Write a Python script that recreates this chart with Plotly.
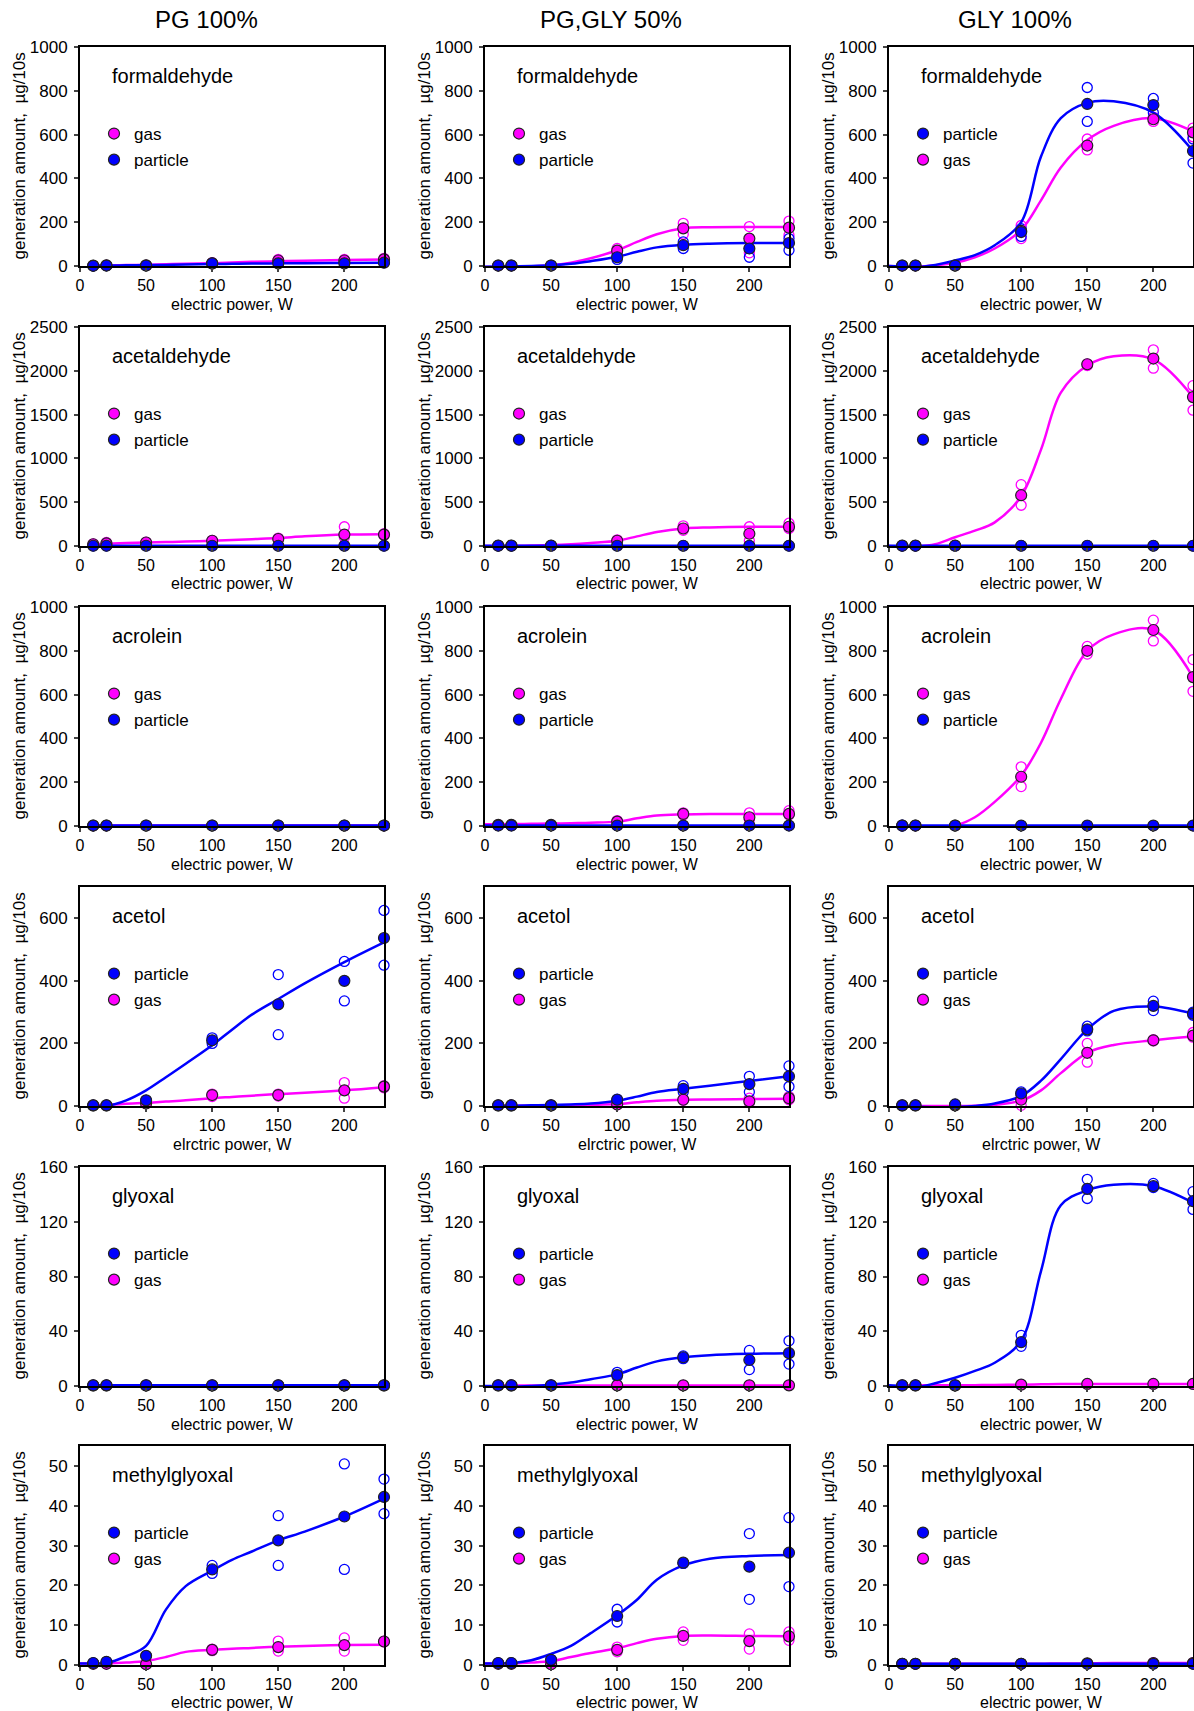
import plotly.graph_objects as go

# ---------------- data ----------------
POWER = [10, 20, 50, 100, 150, 200, 230]
FIT_X = [0, 10, 20, 35, 50, 65, 80, 100, 115, 130, 150, 170, 200, 230]
LIQUIDS = ["PG 100%", "PG,GLY 50%", "GLY 100%"]
COMPOUNDS = ["formaldehyde", "acetaldehyde", "acrolein", "acetol", "glyoxal", "methylglyoxal"]
Y_MAX = [1000, 2500, 1000, 700, 160, 55]
Y_DTICK = [200, 500, 200, 200, 40, 10]
X_TICKS = [0, 50, 100, 150, 200]
X_TITLES = ["electric power, W", "electric power, W", "electric power, W",
            "elrctric power, W", "electric power, W", "electric power, W"]
Y_TITLE = "generation amount,\u00a0 µg/10s"
LEGEND_FIRST = ["gas", "gas", "particle",
                "gas", "gas", "gas",
                "gas", "gas", "gas",
                "particle", "particle", "particle",
                "particle", "particle", "particle",
                "particle", "particle", "particle"]

# formaldehyde
form_pg_gas = [2, 3, 3, 12, 25, 25, 30]
form_pg_gas_r1 = [2, 3, 3, 15, 30, 30, 35]
form_pg_gas_r2 = [2, 3, 3, 10, 20, 22, 28]
form_pg_gas_fit = [None, 1, 2, 4, 5, 8, 10, 13, 16, 19, 22, 24, 27, 30]
form_pg_par = [1, 2, 2, 12, 12, 12, 15]
form_pg_par_r1 = [1, 2, 2, 12, 12, 12, 15]
form_pg_par_r2 = [1, 2, 2, 12, 12, 12, 15]
form_pg_par_fit = [None, 1, 2, 3, 4, 5, 7, 9, 10, 11, 12, 13, 14, 15]

form_mix_gas = [2, 2, 2, 70, 172, 125, 175]
form_mix_gas_r1 = [2, 2, 2, 80, 195, 180, 205]
form_mix_gas_r2 = [2, 2, 2, 60, 145, 60, 140]
form_mix_gas_fit = [-5, -3, -2, -1, 3, 15, 35, 72, 110, 145, 172, 177, 178, 178]
form_mix_par = [2, 2, 2, 40, 95, 80, 105]
form_mix_par_r1 = [2, 2, 2, 50, 110, 80, 125]
form_mix_par_r2 = [2, 2, 2, 30, 80, 40, 72]
form_mix_par_fit = [-3, -2, -1, 0, 3, 10, 22, 42, 65, 85, 97, 102, 105, 105]

form_gly_gas = [2, 2, 2, 160, 550, 670, 610]
form_gly_gas_r1 = [2, 2, 2, 185, 580, 680, 630]
form_gly_gas_r2 = [2, 2, 2, 125, 530, 660, 590]
form_gly_gas_fit = [0, -2, -3, 3, 15, 40, 80, 165, 300, 450, 575, 640, 675, 615]
form_gly_par = [2, 2, 2, 155, 740, 735, 525]
form_gly_par_r1 = [2, 2, 2, 170, 815, 765, 580]
form_gly_par_r2 = [2, 2, 2, 135, 660, 700, 470]
form_gly_par_fit = [0, -2, -5, 5, 25, 50, 95, 200, 500, 675, 745, 752, 700, 525]

# acetaldehyde
acet_pg_gas = [20, 30, 40, 60, 80, 130, 130]
acet_pg_gas_r1 = [25, 40, 45, 65, 90, 220, 140]
acet_pg_gas_r2 = [15, 25, 35, 55, 70, 100, 120]
acet_pg_gas_fit = [None, 20, 25, 33, 40, 45, 50, 60, 68, 78, 90, 110, 130, 135]
acet_pg_par = [3, 3, 3, 3, 3, 3, 3]
acet_pg_par_r1 = [3, 3, 3, 3, 3, 3, 3]
acet_pg_par_r2 = [3, 3, 3, 3, 3, 3, 3]
acet_pg_par_fit = [None, 3, 3, 3, 3, 3, 3, 3, 3, 3, 3, 3, 3, 3]

acet_mix_gas = [5, 5, 5, 60, 200, 140, 220]
acet_mix_gas_r1 = [5, 5, 5, 70, 230, 220, 260]
acet_mix_gas_r2 = [5, 5, 5, 50, 180, 60, 200]
acet_mix_gas_fit = [0, 0, 2, 5, 10, 20, 35, 60, 110, 160, 200, 212, 220, 220]
acet_mix_par = [3, 3, 3, 3, 3, 3, 3]
acet_mix_par_r1 = [3, 3, 3, 3, 3, 3, 3]
acet_mix_par_r2 = [3, 3, 3, 3, 3, 3, 3]
acet_mix_par_fit = [3, 3, 3, 3, 3, 3, 3, 3, 3, 3, 3, 3, 3, 3]

acet_gly_gas = [5, 5, 5, 580, 2075, 2140, 1700]
acet_gly_gas_r1 = [5, 5, 5, 700, 2080, 2240, 1830]
acet_gly_gas_r2 = [5, 5, 5, 465, 2060, 2030, 1550]
acet_gly_gas_fit = [0, -5, -5, 20, 100, 175, 270, 570, 1100, 1750, 2060, 2165, 2130, 1700]
acet_gly_par = [3, 3, 3, 3, 3, 3, 3]
acet_gly_par_r1 = [3, 3, 3, 3, 3, 3, 3]
acet_gly_par_r2 = [3, 3, 3, 3, 3, 3, 3]
acet_gly_par_fit = [3, 3, 3, 3, 3, 3, 3, 3, 3, 3, 3, 3, 3, 3]

# acrolein
acro_pg_gas = [2, 2, 2, 2, 2, 2, 2]
acro_pg_gas_r1 = [2, 2, 2, 2, 2, 2, 2]
acro_pg_gas_r2 = [2, 2, 2, 2, 2, 2, 2]
acro_pg_gas_fit = [None, 2, 2, 2, 2, 2, 2, 2, 2, 2, 2, 2, 2, 2]
acro_pg_par = [2, 2, 2, 2, 2, 2, 2]
acro_pg_par_r1 = [2, 2, 2, 2, 2, 2, 2]
acro_pg_par_r2 = [2, 2, 2, 2, 2, 2, 2]
acro_pg_par_fit = [None, 2, 2, 2, 2, 2, 2, 2, 2, 2, 2, 2, 2, 2]

acro_mix_gas = [5, 5, 5, 20, 55, 40, 55]
acro_mix_gas_r1 = [5, 5, 5, 25, 60, 60, 70]
acro_mix_gas_r2 = [5, 5, 5, 15, 50, 30, 50]
acro_mix_gas_fit = [8, 8, 9, 10, 11, 13, 15, 20, 35, 48, 53, 55, 55, 55]
acro_mix_par = [2, 2, 2, 2, 2, 2, 2]
acro_mix_par_r1 = [2, 2, 2, 2, 2, 2, 2]
acro_mix_par_r2 = [2, 2, 2, 2, 2, 2, 2]
acro_mix_par_fit = [2, 2, 2, 2, 2, 2, 2, 2, 2, 2, 2, 2, 2, 2]

acro_gly_gas = [2, 2, 2, 225, 800, 895, 680]
acro_gly_gas_r1 = [2, 2, 2, 270, 820, 940, 760]
acro_gly_gas_r2 = [2, 2, 2, 180, 785, 845, 615]
acro_gly_gas_fit = [None, 0, -3, -5, 2, 40, 110, 230, 380, 580, 800, 875, 895, 680]
acro_gly_par = [2, 2, 2, 2, 2, 2, 2]
acro_gly_par_r1 = [0, 2, 2, 2, 2, 2, 2]
acro_gly_par_r2 = [4, 2, 2, 2, 2, 2, 2]
acro_gly_par_fit = [None, 2, 2, 2, 2, 2, 2, 2, 2, 2, 2, 2, 2, 2]

# acetol
acetol_pg_gas = [2, 2, 8, 35, 35, 50, 62]
acetol_pg_gas_r1 = [2, 2, 8, 38, 38, 75, 65]
acetol_pg_gas_r2 = [2, 2, 8, 30, 32, 25, 58]
acetol_pg_gas_fit = [None, 2, 4, 7, 10, 14, 18, 25, 29, 33, 38, 42, 50, 60]
acetol_pg_par = [2, 2, 18, 210, 325, 400, 537]
acetol_pg_par_r1 = [2, 2, 18, 218, 420, 462, 625]
acetol_pg_par_r2 = [2, 2, 18, 200, 228, 336, 450]
acetol_pg_par_fit = [None, 0, 0, 18, 50, 92, 135, 194, 244, 292, 342, 392, 460, 523]

acetol_mix_gas = [2, 2, 2, 5, 20, 15, 25]
acetol_mix_gas_r1 = [2, 2, 2, 6, 22, 25, 30]
acetol_mix_gas_r2 = [2, 2, 2, 4, 18, 10, 20]
acetol_mix_gas_fit = [None, 1, 1, 1, 2, 3, 4, 6, 12, 17, 20, 21, 22, 23]
acetol_mix_par = [2, 2, 2, 20, 55, 70, 95]
acetol_mix_par_r1 = [2, 2, 2, 22, 65, 95, 128]
acetol_mix_par_r2 = [2, 2, 2, 18, 45, 45, 62]
acetol_mix_par_fit = [None, 1, 1, 2, 3, 5, 8, 17, 30, 45, 55, 65, 80, 95]

acetol_gly_gas = [2, 2, 2, 20, 170, 210, 225]
acetol_gly_gas_r1 = [2, 2, 2, 35, 200, 212, 235]
acetol_gly_gas_r2 = [2, 2, 2, 2, 140, 208, 220]
acetol_gly_gas_fit = [None, 0, 0, 0, 0, 1, 4, 17, 50, 105, 170, 195, 210, 222]
acetol_gly_par = [2, 2, 5, 40, 245, 320, 295]
acetol_gly_par_r1 = [2, 2, 5, 45, 255, 335, 300]
acetol_gly_par_r2 = [2, 2, 5, 35, 240, 305, 290]
acetol_gly_par_fit = [None, 0, -2, -4, -3, 0, 8, 32, 81, 150, 245, 304, 318, 295]

# glyoxal
glyo_pg_gas = [0.5, 0.5, 0.5, 0.5, 0.5, 0.5, 0.5]
glyo_pg_gas_r1 = [0.5, 0.5, 0.5, 0.5, 0.5, 0.5, 0.5]
glyo_pg_gas_r2 = [0.5, 0.5, 0.5, 0.5, 0.5, 0.5, 0.5]
glyo_pg_gas_fit = [None, 0.5, 0.5, 0.5, 0.5, 0.5, 0.5, 0.5, 0.5, 0.5, 0.5, 0.5, 0.5, 0.5]
glyo_pg_par = [0.5, 0.5, 0.5, 0.5, 0.5, 0.5, 0.5]
glyo_pg_par_r1 = [0.5, 0.5, 0.5, 0.5, 0.5, 0.5, 0.5]
glyo_pg_par_r2 = [0.5, 0.5, 0.5, 0.5, 0.5, 0.5, 0.5]
glyo_pg_par_fit = [None, 0.5, 0.5, 0.5, 0.5, 0.5, 0.5, 0.5, 0.5, 0.5, 0.5, 0.5, 0.5, 0.5]

glyo_mix_gas = [0.5, 0.5, 0.5, 0.5, 0.5, 0.5, 0.5]
glyo_mix_gas_r1 = [0.5, 0.5, 0.5, 0.5, 0.5, 0.5, 0.5]
glyo_mix_gas_r2 = [0.5, 0.5, 0.5, 0.5, 0.5, 0.5, 0.5]
glyo_mix_gas_fit = [None, 0.3, 0.3, 0.3, 0.3, 0.3, 0.3, 0.3, 0.3, 0.3, 0.3, 0.3, 0.3, 0.3]
glyo_mix_par = [0.5, 0.5, 0.5, 8, 21, 19, 24]
glyo_mix_par_r1 = [0.5, 0.5, 0.5, 10, 22, 26, 33]
glyo_mix_par_r2 = [0.5, 0.5, 0.5, 7, 20, 12, 16]
glyo_mix_par_fit = [0, 0, -0.5, 0, 1, 2.5, 5, 8.5, 13.5, 18, 21, 22.5, 23.5, 24]

glyo_gly_gas = [0.5, 0.5, 0.5, 1, 1.5, 1.5, 1.5]
glyo_gly_gas_r1 = [0.5, 0.5, 0.5, 1, 1.5, 1.5, 1.5]
glyo_gly_gas_r2 = [0.5, 0.5, 0.5, 1, 1.5, 1.5, 1.5]
glyo_gly_gas_fit = [None, 0.5, 0.5, 0.5, 0.5, 0.6, 0.8, 1, 1.2, 1.4, 1.5, 1.5, 1.5, 1.5]
glyo_gly_par = [0.5, 0.5, 0.5, 32, 144, 146, 135]
glyo_gly_par_r1 = [0.5, 0.5, 0.5, 37, 151, 148, 142]
glyo_gly_par_r2 = [0.5, 0.5, 0.5, 29, 137, 145, 129]
glyo_gly_par_fit = [0.5, 0, -1, 2, 6, 11, 17, 33, 84, 132, 143, 147, 146, 134]

# methylglyoxal
mgly_pg_gas = [0.3, 0.3, 0.2, 3.8, 4.5, 5.0, 5.9]
mgly_pg_gas_r1 = [0.3, 0.3, 0.2, 4.0, 6.0, 6.8, 6.0]
mgly_pg_gas_r2 = [0.3, 0.3, 0.2, 3.6, 3.5, 3.5, 5.8]
mgly_pg_gas_fit = [0.4, 0.4, 0.4, 0.6, 1.0, 2.0, 3.3, 3.8, 4.1, 4.3, 4.6, 4.8, 5.0, 5.1]
mgly_pg_par = [0.5, 0.8, 2.3, 24.0, 31.3, 37.3, 42.2]
mgly_pg_par_r1 = [0.5, 0.8, 2.3, 25.0, 37.5, 50.5, 46.7]
mgly_pg_par_r2 = [0.5, 0.8, 2.3, 23.0, 25.0, 24.0, 38.0]
mgly_pg_par_fit = [0.4, 0.4, 0.5, 2.2, 4.8, 13.9, 19.8, 23.7, 26.4, 28.5, 31.3, 33.5, 37.3, 41.8]

mgly_mix_gas = [0.3, 0.3, 0.2, 3.8, 7.3, 6.0, 7.2]
mgly_mix_gas_r1 = [0.3, 0.3, 0.2, 4.5, 8.3, 7.8, 8.3]
mgly_mix_gas_r2 = [0.3, 0.3, 0.2, 3.3, 6.2, 4.0, 6.2]
mgly_mix_gas_fit = [0.4, 0.4, 0.4, 0.6, 1.0, 2.0, 3.0, 4.2, 5.5, 6.6, 7.3, 7.4, 7.3, 7.2]
mgly_mix_par = [0.5, 0.5, 1.3, 12.3, 25.7, 24.7, 28.2]
mgly_mix_par_r1 = [0.5, 0.5, 1.3, 14.0, 25.5, 33.0, 37.0]
mgly_mix_par_r2 = [0.5, 0.5, 1.3, 10.8, 25.5, 16.5, 19.7]
mgly_mix_par_fit = [0.4, 0.4, 0.5, 1.2, 2.8, 4.8, 8.0, 12.5, 16.4, 21.4, 25.0, 26.7, 27.4, 27.6]

mgly_gly_gas = [0.3, 0.3, 0.3, 0.3, 0.4, 0.5, 0.5]
mgly_gly_gas_r1 = [0.3, 0.3, 0.3, 0.3, 0.4, 0.5, 0.5]
mgly_gly_gas_r2 = [0.3, 0.3, 0.3, 0.3, 0.4, 0.5, 0.5]
mgly_gly_gas_fit = [None, 0.3, 0.3, 0.3, 0.3, 0.3, 0.3, 0.3, 0.3, 0.4, 0.4, 0.5, 0.5, 0.5]
mgly_gly_par = [0.3, 0.3, 0.3, 0.3, 0.3, 0.3, 0.3]
mgly_gly_par_r1 = [0.3, 0.3, 0.3, 0.3, 0.3, 0.3, 0.3]
mgly_gly_par_r2 = [0.3, 0.3, 0.3, 0.3, 0.3, 0.3, 0.3]
mgly_gly_par_fit = [None, 0.3, 0.3, 0.3, 0.3, 0.3, 0.3, 0.3, 0.3, 0.3, 0.3, 0.3, 0.3, 0.3]

PANELS = [
    (form_pg_gas, form_pg_gas_r1, form_pg_gas_r2, form_pg_gas_fit, form_pg_par, form_pg_par_r1, form_pg_par_r2, form_pg_par_fit),
    (form_mix_gas, form_mix_gas_r1, form_mix_gas_r2, form_mix_gas_fit, form_mix_par, form_mix_par_r1, form_mix_par_r2, form_mix_par_fit),
    (form_gly_gas, form_gly_gas_r1, form_gly_gas_r2, form_gly_gas_fit, form_gly_par, form_gly_par_r1, form_gly_par_r2, form_gly_par_fit),
    (acet_pg_gas, acet_pg_gas_r1, acet_pg_gas_r2, acet_pg_gas_fit, acet_pg_par, acet_pg_par_r1, acet_pg_par_r2, acet_pg_par_fit),
    (acet_mix_gas, acet_mix_gas_r1, acet_mix_gas_r2, acet_mix_gas_fit, acet_mix_par, acet_mix_par_r1, acet_mix_par_r2, acet_mix_par_fit),
    (acet_gly_gas, acet_gly_gas_r1, acet_gly_gas_r2, acet_gly_gas_fit, acet_gly_par, acet_gly_par_r1, acet_gly_par_r2, acet_gly_par_fit),
    (acro_pg_gas, acro_pg_gas_r1, acro_pg_gas_r2, acro_pg_gas_fit, acro_pg_par, acro_pg_par_r1, acro_pg_par_r2, acro_pg_par_fit),
    (acro_mix_gas, acro_mix_gas_r1, acro_mix_gas_r2, acro_mix_gas_fit, acro_mix_par, acro_mix_par_r1, acro_mix_par_r2, acro_mix_par_fit),
    (acro_gly_gas, acro_gly_gas_r1, acro_gly_gas_r2, acro_gly_gas_fit, acro_gly_par, acro_gly_par_r1, acro_gly_par_r2, acro_gly_par_fit),
    (acetol_pg_gas, acetol_pg_gas_r1, acetol_pg_gas_r2, acetol_pg_gas_fit, acetol_pg_par, acetol_pg_par_r1, acetol_pg_par_r2, acetol_pg_par_fit),
    (acetol_mix_gas, acetol_mix_gas_r1, acetol_mix_gas_r2, acetol_mix_gas_fit, acetol_mix_par, acetol_mix_par_r1, acetol_mix_par_r2, acetol_mix_par_fit),
    (acetol_gly_gas, acetol_gly_gas_r1, acetol_gly_gas_r2, acetol_gly_gas_fit, acetol_gly_par, acetol_gly_par_r1, acetol_gly_par_r2, acetol_gly_par_fit),
    (glyo_pg_gas, glyo_pg_gas_r1, glyo_pg_gas_r2, glyo_pg_gas_fit, glyo_pg_par, glyo_pg_par_r1, glyo_pg_par_r2, glyo_pg_par_fit),
    (glyo_mix_gas, glyo_mix_gas_r1, glyo_mix_gas_r2, glyo_mix_gas_fit, glyo_mix_par, glyo_mix_par_r1, glyo_mix_par_r2, glyo_mix_par_fit),
    (glyo_gly_gas, glyo_gly_gas_r1, glyo_gly_gas_r2, glyo_gly_gas_fit, glyo_gly_par, glyo_gly_par_r1, glyo_gly_par_r2, glyo_gly_par_fit),
    (mgly_pg_gas, mgly_pg_gas_r1, mgly_pg_gas_r2, mgly_pg_gas_fit, mgly_pg_par, mgly_pg_par_r1, mgly_pg_par_r2, mgly_pg_par_fit),
    (mgly_mix_gas, mgly_mix_gas_r1, mgly_mix_gas_r2, mgly_mix_gas_fit, mgly_mix_par, mgly_mix_par_r1, mgly_mix_par_r2, mgly_mix_par_fit),
    (mgly_gly_gas, mgly_gly_gas_r1, mgly_gly_gas_r2, mgly_gly_gas_fit, mgly_gly_par, mgly_gly_par_r1, mgly_gly_par_r2, mgly_gly_par_fit),
]

# ---------------- styling / layout ----------------
W, H = 1194, 1711
FONT = "Liberation Sans, Arial, sans-serif"
GAS_C = "#FF00FF"
PAR_C = "#0000FF"
# target pixel geometry of the plot boxes in the final picture
COL_LEFT = [80, 485, 889]
COL_RIGHT = [384, 789, 1193]
ROW_TOP = [47, 327, 607, 887, 1167, 1446]
ROW_H = 219
# figure pixels map 1:1 to the picture (margins may not auto-expand)
OFF_X, K_X = 0.0, 1.0
OFF_Y, K_Y = 0.0, 1.0


def px(x):
    return ((x - OFF_X) / K_X) / W


def py(y):
    return 1 - ((y - OFF_Y) / K_Y) / H


fig = go.Figure()
layout = dict(
    width=W, height=H,
    margin=dict(l=0, r=0, t=0, b=0, pad=0, autoexpand=False),
    paper_bgcolor="white", plot_bgcolor="white",
    font=dict(family=FONT, size=16, color="black"),
    showlegend=True,
)
annotations = []

for k, panel in enumerate(PANELS):
    r, c = divmod(k, 3)
    gas, gas_r1, gas_r2, gas_fit, par, par_r1, par_r2, par_fit = panel
    xa = "x" if k == 0 else f"x{k+1}"
    ya = "y" if k == 0 else f"y{k+1}"
    lg = "legend" if k == 0 else f"legend{k+1}"
    left, right = COL_LEFT[c], COL_RIGHT[c]
    top, bottom = ROW_TOP[r], ROW_TOP[r] + ROW_H

    layout["xaxis" if k == 0 else f"xaxis{k+1}"] = dict(
        domain=[px(left), min(1.0, px(right))], anchor=ya, range=[0, 230],
        tickvals=X_TICKS, ticks="outside", ticklen=4, tickwidth=1.5,
        ticklabelstandoff=0, automargin=False,
        showline=True, linecolor="black", linewidth=2, mirror=True,
        showgrid=False, zeroline=False,
        tickfont=dict(family=FONT, size=16, color="black"),
    )
    layout["yaxis" if k == 0 else f"yaxis{k+1}"] = dict(
        domain=[py(bottom), py(top)], anchor=xa, range=[0, Y_MAX[r]],
        dtick=Y_DTICK[r], tick0=0, ticks="outside", ticklen=4, tickwidth=1.5,
        ticklabelstandoff=3, automargin=False,
        showline=True, linecolor="black", linewidth=2, mirror=True,
        showgrid=False, zeroline=False,
        tickfont=dict(family=FONT, size=17, color="black"),
    )
    layout[lg] = dict(
        x=px(left + 14), y=py(top + 69), xanchor="left", yanchor="top",
        bgcolor="rgba(0,0,0,0)", borderwidth=0,
        font=dict(family=FONT, size=17, color="black"),
        itemwidth=30, tracegroupgap=1, traceorder="grouped",
    )

    first = LEGEND_FIRST[k]
    series = [("gas", GAS_C, gas, gas_r1, gas_r2, gas_fit),
              ("particle", PAR_C, par, par_r1, par_r2, par_fit)]
    # replicate (open) markers
    for name, col, mean, r1, r2, fit in series:
        for rep in (r1, r2):
            fig.add_trace(go.Scatter(
                x=POWER, y=rep, xaxis=xa, yaxis=ya, mode="markers",
                marker=dict(symbol="circle-open", size=10, color=col, line=dict(width=1.3, color=col)),
                showlegend=False, cliponaxis=False, hoverinfo="skip"))
    # fitted curves
    for name, col, mean, r1, r2, fit in series:
        fig.add_trace(go.Scatter(
            x=FIT_X, y=fit, xaxis=xa, yaxis=ya, mode="lines",
            line=dict(color=col, width=2.5, shape="spline", smoothing=1.0),
            connectgaps=False, showlegend=False, hoverinfo="skip"))
    # mean (filled) markers -> legend entries
    for name, col, mean, r1, r2, fit in series:
        fig.add_trace(go.Scatter(
            x=POWER, y=mean, xaxis=xa, yaxis=ya, mode="markers", name=name,
            marker=dict(symbol="circle", size=11, color=col, line=dict(width=1.2, color="#222222")),
            legend=lg, legendgroup=f"{k}-{name}",
            legendrank=1 if name == first else 2,
            showlegend=True, cliponaxis=False))

    # compound label
    annotations.append(dict(
        text=COMPOUNDS[r], x=px(left + 30), y=py(top + 29), xref="paper", yref="paper",
        xanchor="left", yanchor="middle", showarrow=False,
        font=dict(family=FONT, size=20, color="black")))
    # y axis title
    annotations.append(dict(
        text=Y_TITLE, x=px(left - 61), y=py(top + ROW_H / 2), xref="paper", yref="paper",
        xanchor="center", yanchor="middle", textangle=-90, showarrow=False,
        font=dict(family=FONT, size=17, color="black")))
    # x axis title
    annotations.append(dict(
        text=X_TITLES[r], x=px(left + 152), y=py(min(bottom + 38, 1702)), xref="paper", yref="paper",
        xanchor="center", yanchor="middle", showarrow=False,
        font=dict(family=FONT, size=16, color="black")))

# column titles
for c, title in enumerate(LIQUIDS):
    annotations.append(dict(
        text=title, x=px(COL_LEFT[c] + 126), y=py(20), xref="paper", yref="paper",
        xanchor="center", yanchor="middle", showarrow=False,
        font=dict(family=FONT, size=24, color="black")))

layout["annotations"] = annotations
fig.update_layout(**layout)

PAGE_FIX = ("document.documentElement.style.margin='0';document.body.style.margin='0';"
            "document.body.style.padding='0';document.documentElement.style.overflow='hidden';"
            "document.body.style.overflow='hidden';")
fig.write_html("out.html", config={"displayModeBar": False}, post_script=PAGE_FIX)
